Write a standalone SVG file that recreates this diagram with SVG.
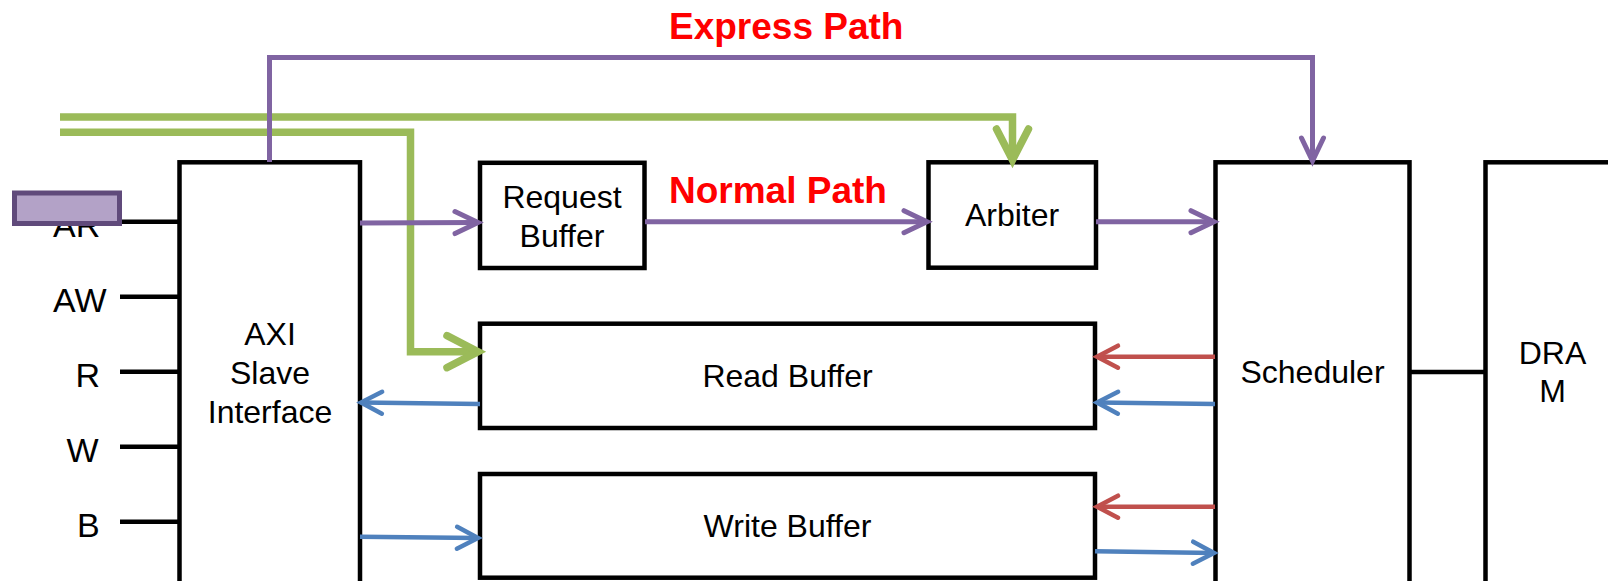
<svg xmlns="http://www.w3.org/2000/svg" width="1608" height="581" viewBox="0 0 1608 581">
<style>
.box{fill:#fff;stroke:#000;stroke-width:4.5}
.t{font-family:"Liberation Sans",Arial,sans-serif;font-size:32px;fill:#000;text-anchor:middle}
.sig{font-family:"Liberation Sans",Arial,sans-serif;font-size:34px;fill:#000}
.pin{stroke:#000;stroke-width:4.5;fill:none}
.lbl{font-family:"Liberation Sans",Arial,sans-serif;font-size:37px;font-weight:bold;fill:#ff0000}
.pu{stroke:#8064a2;stroke-width:5;fill:none}
.gr{stroke:#9bbb59;stroke-width:7.5;fill:none}
.bl{stroke:#4f81bd;stroke-width:4.5;fill:none}
.rd{stroke:#c0504d;stroke-width:4.5;fill:none}
</style>
<defs>
<marker id="mp" markerUnits="userSpaceOnUse" markerWidth="40" markerHeight="40" refX="30" refY="20" orient="auto" overflow="visible"><path d="M7,9 L30,20 L7,31" fill="none" stroke="#8064a2" stroke-width="5" stroke-linecap="round"/></marker>
<marker id="mg" markerUnits="userSpaceOnUse" markerWidth="50" markerHeight="50" refX="40" refY="25" orient="auto" overflow="visible"><path d="M9,9 L40,25 L9,41" fill="none" stroke="#9bbb59" stroke-width="7.5" stroke-linecap="round"/></marker>
<marker id="mb" markerUnits="userSpaceOnUse" markerWidth="40" markerHeight="40" refX="30" refY="20" orient="auto" overflow="visible"><path d="M9,9 L30,20 L9,31" fill="none" stroke="#4f81bd" stroke-width="4.5" stroke-linecap="round"/></marker>
<marker id="mr" markerUnits="userSpaceOnUse" markerWidth="40" markerHeight="40" refX="30" refY="20" orient="auto" overflow="visible"><path d="M9,9 L30,20 L9,31" fill="none" stroke="#c0504d" stroke-width="4.5" stroke-linecap="round"/></marker>
</defs>
<rect width="1608" height="581" fill="#fff"/>

<g id="signals">
<text class="sig" x="53" y="237">AR</text>
<text class="sig" x="53" y="312">AW</text>
<text class="sig" x="75.5" y="387">R</text>
<text class="sig" x="66.5" y="462">W</text>
<text class="sig" x="77" y="537">B</text>
<line class="pin" x1="120" y1="221.7" x2="180" y2="221.7"/>
<line class="pin" x1="120" y1="296.7" x2="180" y2="296.7"/>
<line class="pin" x1="120" y1="371.7" x2="180" y2="371.7"/>
<line class="pin" x1="120" y1="446.7" x2="180" y2="446.7"/>
<line class="pin" x1="120" y1="521.7" x2="180" y2="521.7"/>
<line class="pin" x1="1409" y1="372" x2="1486" y2="372"/>
</g>

<g id="axi">
<rect class="box" x="179.5" y="162.3" width="180.5" height="440"/>
<text class="t" x="270" y="345">AXI</text>
<text class="t" x="270" y="383.5">Slave</text>
<text class="t" x="270" y="422.5">Interface</text>
</g>
<g id="request-buffer">
<rect class="box" x="480" y="162.8" width="164.5" height="105.2"/>
<text class="t" x="562" y="208.3">Request</text>
<text class="t" x="562" y="246.7">Buffer</text>
</g>
<g id="arbiter">
<rect class="box" x="928.5" y="162.3" width="167.5" height="105.4"/>
<text class="t" x="1012" y="226">Arbiter</text>
</g>
<g id="read-buffer">
<rect class="box" x="480" y="323.7" width="615" height="104.3"/>
<text class="t" x="787.5" y="387.3">Read Buffer</text>
</g>
<g id="write-buffer">
<rect class="box" x="480" y="474" width="615" height="103.7"/>
<text class="t" x="787.5" y="537.3">Write Buffer</text>
</g>
<g id="scheduler">
<rect class="box" x="1215.5" y="162.3" width="194" height="440"/>
<text class="t" x="1312.5" y="383.3">Scheduler</text>
</g>
<g id="dram">
<rect class="box" x="1485.5" y="162.3" width="200" height="440"/>
<text class="t" x="1552.5" y="364.3">DRA</text>
<text class="t" x="1552.5" y="401.7">M</text>
</g>

<g id="connectors">
<polyline class="gr" points="60,117 1012.5,117 1012.5,160" marker-end="url(#mg)"/>
<polyline class="gr" points="60,132.3 410.5,132.3 410.5,351.7 478,351.7" marker-end="url(#mg)"/>
<polyline class="pu" points="269.5,162 269.5,57.5 1312.5,57.5 1312.5,161" marker-end="url(#mp)"/>
<line class="pu" x1="360" y1="223" x2="478" y2="222.5" marker-end="url(#mp)"/>
<line class="pu" x1="645" y1="221.7" x2="927" y2="221.7" marker-end="url(#mp)"/>
<line class="pu" x1="1096" y1="221.7" x2="1214" y2="221.7" marker-end="url(#mp)"/>
<line class="rd" x1="1215" y1="356.7" x2="1097" y2="356.7" marker-end="url(#mr)"/>
<line class="bl" x1="1215" y1="404" x2="1097" y2="402.5" marker-end="url(#mb)"/>
<line class="rd" x1="1215" y1="506.7" x2="1097" y2="506.7" marker-end="url(#mr)"/>
<line class="bl" x1="1095" y1="551.3" x2="1214" y2="553" marker-end="url(#mb)"/>
<line class="bl" x1="480" y1="404" x2="361" y2="402.5" marker-end="url(#mb)"/>
<line class="bl" x1="360" y1="536.7" x2="478" y2="538" marker-end="url(#mb)"/>
</g>

<rect id="marker-box" x="14.5" y="193" width="105" height="30.5" fill="#b3a2c7" stroke="#604a7b" stroke-width="5"/>
<text class="lbl" x="669" y="38.5">Express Path</text>
<text class="lbl" x="669" y="203.3">Normal Path</text>
</svg>
